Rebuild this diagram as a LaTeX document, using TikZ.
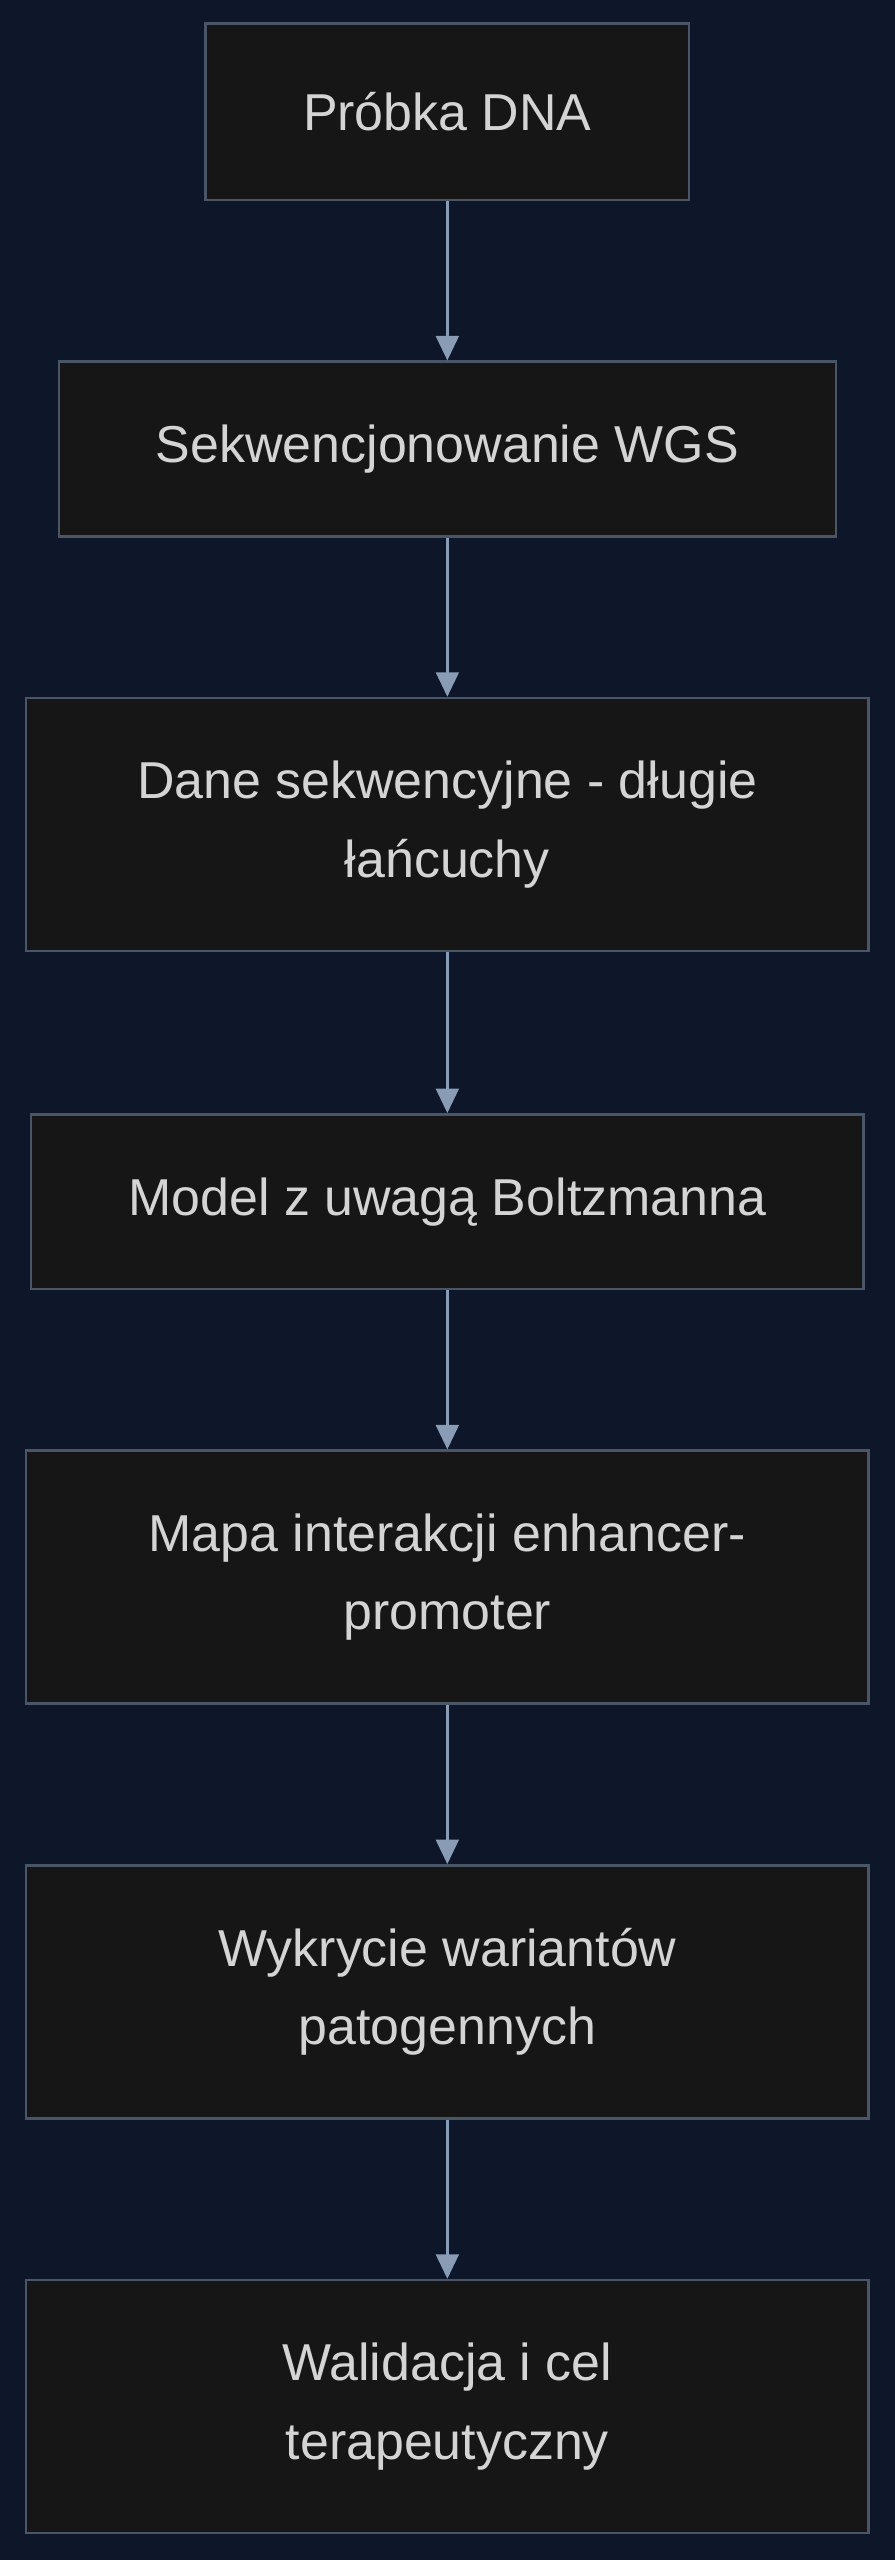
\documentclass[tikz,border=0pt]{standalone}
\usepackage{fontspec}
\setmainfont{Liberation Sans}
\usetikzlibrary{arrows.meta}
\definecolor{bgc}{HTML}{0E1729}
\definecolor{boxf}{HTML}{161616}
\definecolor{boxd}{HTML}{4A5568}
\definecolor{arr}{HTML}{8A9BB5}
\definecolor{txt}{HTML}{D4D4D4}
\tikzset{
  stepbox/.style={draw=boxd, line width=1.5pt, fill=boxf, text=txt, align=center,
    font=\fontsize{31.8}{48}\selectfont, inner sep=0pt},
  flow/.style={draw=arr, line width=1.5pt, -{Triangle[length=15pt,width=14pt]}}
}
\begin{document}
\begin{tikzpicture}[x=1pt,y=-1pt]
\fill[bgc] (0,0) rectangle (548,1568);
\useasboundingbox (0,0) rectangle (548,1568);
\node[stepbox, minimum width=296pt, minimum height=108pt] (a) at (274,68.5) {Próbka DNA};
\node[stepbox, minimum width=476pt, minimum height=107pt] (b) at (274,275) {Sekwencjonowanie WGS};
\node[stepbox, minimum width=516pt, minimum height=155pt] (c) at (274,505) {Dane sekwencyjne - długie\\łańcuchy};
\node[stepbox, minimum width=510pt, minimum height=107pt] (d) at (274,736) {Model z uwagą Boltzmanna};
\node[stepbox, minimum width=516pt, minimum height=155pt] (e) at (274,966) {Mapa interakcji enhancer-\\promoter};
\node[stepbox, minimum width=516pt, minimum height=155pt] (f) at (274,1220) {Wykrycie wariantów\\patogennych};
\node[stepbox, minimum width=516pt, minimum height=155pt] (g) at (274,1474) {Walidacja i cel\\terapeutyczny};
\draw[flow] (a) -- (b);
\draw[flow] (b) -- (c);
\draw[flow] (c) -- (d);
\draw[flow] (d) -- (e);
\draw[flow] (e) -- (f);
\draw[flow] (f) -- (g);
\end{tikzpicture}
\end{document}
